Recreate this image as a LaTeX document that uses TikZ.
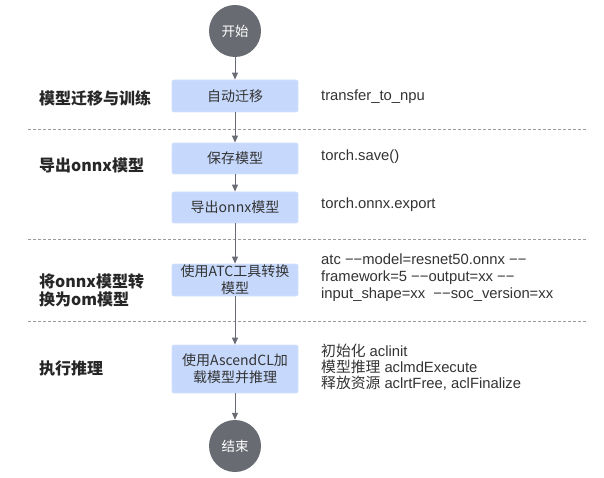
\documentclass[tikz,border=0pt]{standalone}
\usepackage{fontspec}
\setmainfont{Liberation Sans}
\newfontfamily\cjk{Noto Sans CJK SC}
\usepackage{xcolor}
\usepackage{tikz}
\usetikzlibrary{shapes,positioning,calc,arrows.meta}

\definecolor{termgray}{HTML}{686B72}
\definecolor{boxblue}{HTML}{C6D9FC}
\definecolor{boxedge}{HTML}{D3E0FB}
\definecolor{flowgray}{HTML}{696C73}
\definecolor{inktext}{HTML}{333333}
\definecolor{dashgray}{HTML}{9A9A9A}

\begin{document}
\begin{tikzpicture}[x=1pt,y=-1pt,
    terminal/.style={circle, fill=termgray, minimum size=52pt, inner sep=0pt,
        text=white, font=\cjk\fontsize{13.5}{15}\selectfont},
    stepbox/.style={rectangle, rounded corners=2pt, fill=boxblue, draw=boxedge,
        line width=0.8pt, minimum width=126pt, minimum height=31pt, inner sep=0pt,
        text=inktext, font=\cjk\fontsize{14}{17}\selectfont, align=center},
    stagelabel/.style={anchor=west, inner sep=0pt, text=black!85,
        font=\cjk\bfseries\fontsize{16}{18}\selectfont, align=left},
    apinote/.style={anchor=west, inner sep=0pt, text=inktext,
        font=\fontsize{14.8}{16}\selectfont, align=left},
    flow/.style={draw=flowgray, line width=1pt, -{Triangle[width=6pt,length=7pt]}},
    divider/.style={draw=dashgray, line width=0.8pt, dash pattern=on 3pt off 2pt}]

    \useasboundingbox (0,0) rectangle (604,478);

    % start / end
    \node[terminal] (start) at (235,31) {开始};
    \node[terminal] (stop) at (235,446) {结束};

    % steps
    \node[stepbox, minimum height=32pt] (migrate) at (235,96) {自动迁移};
    \node[stepbox] (save) at (235,158.5) {保存模型};
    \node[stepbox] (export) at (235,207.5) {导出onnx模型};
    \node[stepbox, minimum height=32pt] (atc) at (235,280) {};
    \node[text=inktext, font=\cjk\fontsize{14}{17}\selectfont, align=center,
        inner sep=0pt] (atctext) at (atc.center) {使用ATC工具转换\\模型};
    \node[stepbox, minimum height=48pt] (infer) at (235,369) {使用AscendCL加\\载模型并推理};

    % stages on the left
    \node[stagelabel] (stage1) at (39,98) {模型迁移与训练};
    \node[stagelabel] (stage2) at (39,165) {导出onnx模型};
    \node[stagelabel] (stage3) at (39,290) {将onnx模型转\\换为om模型};
    \node[stagelabel] (stage4) at (39,368) {执行推理};

    % api notes on the right
    \node[apinote] (note1) at (321,97) {transfer\_to\_npu};
    \node[apinote] (note2) at (321,157) {torch.save()};
    \node[apinote] (note3) at (321,205) {torch.onnx.export};
    \node[apinote, font=\fontsize{14.8}{17}\selectfont] (note4) at (321,278)
        {atc −−model=resnet50.onnx −−\\
        framework=5 −−output=xx −−\\
        input\_shape=xx\ \ −−soc\_version=xx};
    \node[apinote] (note5) at (321,367) {{\cjk 初始化} aclinit\\
        {\cjk 模型推理} aclmdExecute\\
        {\cjk 释放资源} aclrtFree, aclFinalize};

    % dashed separators
    \draw[divider] (28,129) -- (588,129);
    \draw[divider] (28,239) -- (588,239);
    \draw[divider] (28,321) -- (588,321);

    % flow
    \draw[flow] (start) -- (migrate);
    \draw[flow] (migrate) -- (save);
    \draw[flow] (save) -- (export);
    \draw[flow] (export) -- (atc);
    \draw[flow] (atc) -- (infer);
    \draw[flow] (infer) -- (stop);
\end{tikzpicture}
\end{document}
